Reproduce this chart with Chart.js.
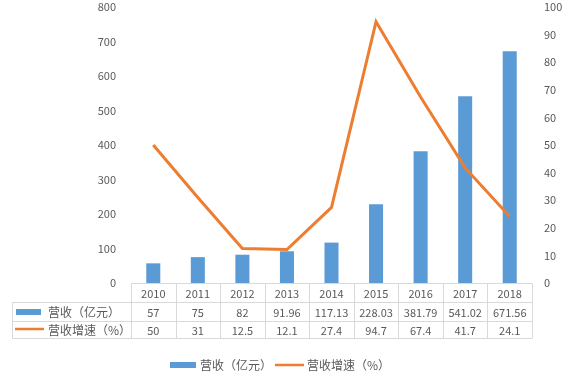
<!DOCTYPE html>
<html><head><meta charset="utf-8">
<script src="https://cdn.jsdelivr.net/npm/chart.js@4"></script>
<style>html,body{margin:0;padding:0;background:#fff;}#c{display:block;}</style>
</head><body>
<div style="width:563px;height:380px;position:relative;"><canvas id="c" width="563" height="380"></canvas></div>
<script>
const years = ['2010','2011','2012','2013','2014','2015','2016','2017','2018'];
const revenue = [57, 75, 82, 91.96, 117.13, 228.03, 381.79, 541.02, 671.56];
const growth = [50, 31, 12.5, 12.1, 27.4, 94.7, 67.4, 41.7, 24.1];
const revenueLabels = ['57','75','82','91.96','117.13','228.03','381.79','541.02','671.56'];
const growthLabels = ['50','31','12.5','12.1','27.4','94.7','67.4','41.7','24.1'];
const seriesNames = ['营收（亿元）','营收增速（%）'];

const BLUE = '#5B9BD5', ORANGE = '#ED7D31', TXT = '#595959', GRID = '#D9D9D9';
const FONT = '"Noto Sans CJK SC", "Noto Sans", sans-serif';

const tablePlugin = {
  id: 'tablePlugin',
  afterDraw(chart) {
    const ctx = chart.ctx, x = chart.scales.x, area = chart.chartArea;
    const n = years.length;
    const left = area.left, right = area.right;
    const colW = (right - left) / n;
    const top = Math.round(area.bottom) + 0.5;
    const r1 = 302.5, r2 = 321.5, r3 = 338.5, legL = 12.5;
    ctx.save();
    ctx.strokeStyle = GRID; ctx.lineWidth = 1;
    ctx.beginPath();
    ctx.moveTo(left, top); ctx.lineTo(right, top);
    [r1, r2, r3].forEach(y => { ctx.moveTo(legL, y); ctx.lineTo(right, y); });
    ctx.moveTo(legL, r1); ctx.lineTo(legL, r3);
    for (let i = 0; i <= n; i++) {
      const xx = Math.round(left + colW * i) + 0.5;
      ctx.moveTo(xx, top); ctx.lineTo(xx, r3);
    }
    ctx.stroke();
    ctx.fillStyle = TXT;
    ctx.font = '11px ' + FONT;
    ctx.textAlign = 'center'; ctx.textBaseline = 'middle';
    for (let i = 0; i < n; i++) {
      const cx = x.getPixelForValue(i);
      ctx.fillText(years[i], cx, (top + r1) / 2 + 0.5);
      ctx.fillText(revenueLabels[i], cx, (r1 + r2) / 2 + 0.5);
      ctx.fillText(growthLabels[i], cx, (r2 + r3) / 2 + 0.5);
    }
    // row legends
    ctx.fillStyle = BLUE; ctx.fillRect(16, 309, 25, 6);
    ctx.strokeStyle = ORANGE; ctx.lineWidth = 2.5;
    ctx.beginPath(); ctx.moveTo(15, 329); ctx.lineTo(44, 329); ctx.stroke();
    ctx.font = '12px ' + FONT;
    ctx.fillStyle = TXT; ctx.textAlign = 'left';
    ctx.fillText(seriesNames[0], 48, (r1 + r2) / 2 + 0.5);
    ctx.fillText(seriesNames[1], 48, (r2 + r3) / 2 + 0.5);
    // bottom legend
    ctx.fillStyle = BLUE; ctx.fillRect(170, 362, 26, 6);
    ctx.fillStyle = TXT; ctx.fillText(seriesNames[0], 200, 365.5);
    ctx.strokeStyle = ORANGE; ctx.lineWidth = 2.5;
    ctx.beginPath(); ctx.moveTo(275, 365); ctx.lineTo(304, 365); ctx.stroke();
    ctx.fillText(seriesNames[1], 307, 365.5);
    ctx.restore();
  }
};

new Chart(document.getElementById('c'), {
  data: {
    labels: years,
    datasets: [
      { type: 'line', label: seriesNames[1], data: growth, yAxisID: 'y1', borderColor: ORANGE, backgroundColor: ORANGE, borderWidth: 3, pointRadius: 0, tension: 0, order: 0 },
      { type: 'bar', label: seriesNames[0], data: revenue, yAxisID: 'y', backgroundColor: BLUE, barPercentage: 0.315, categoryPercentage: 1, order: 1 }
    ]
  },
  options: {
    responsive: false, animation: false,
    layout: { padding: { top: 7, bottom: 97, left: 0, right: 0 } },
    plugins: { legend: { display: false }, tooltip: { enabled: false } },
    scales: {
      x: { display: false, offset: true },
      y: {
        position: 'left', min: 0, max: 800,
        ticks: { stepSize: 100, color: TXT, font: { size: 11, family: FONT }, padding: 7 },
        grid: { display: false }, border: { display: false },
        afterFit(s) { s.width = 131; s.paddingTop = 0; s.paddingBottom = 0; }
      },
      y1: {
        position: 'right', min: 0, max: 100,
        ticks: { stepSize: 10, color: TXT, font: { size: 11, family: FONT }, padding: 4 },
        grid: { display: false }, border: { display: false },
        afterFit(s) { s.width = 31; s.paddingTop = 0; s.paddingBottom = 0; }
      }
    }
  },
  plugins: [tablePlugin]
});
</script>
</body></html>
